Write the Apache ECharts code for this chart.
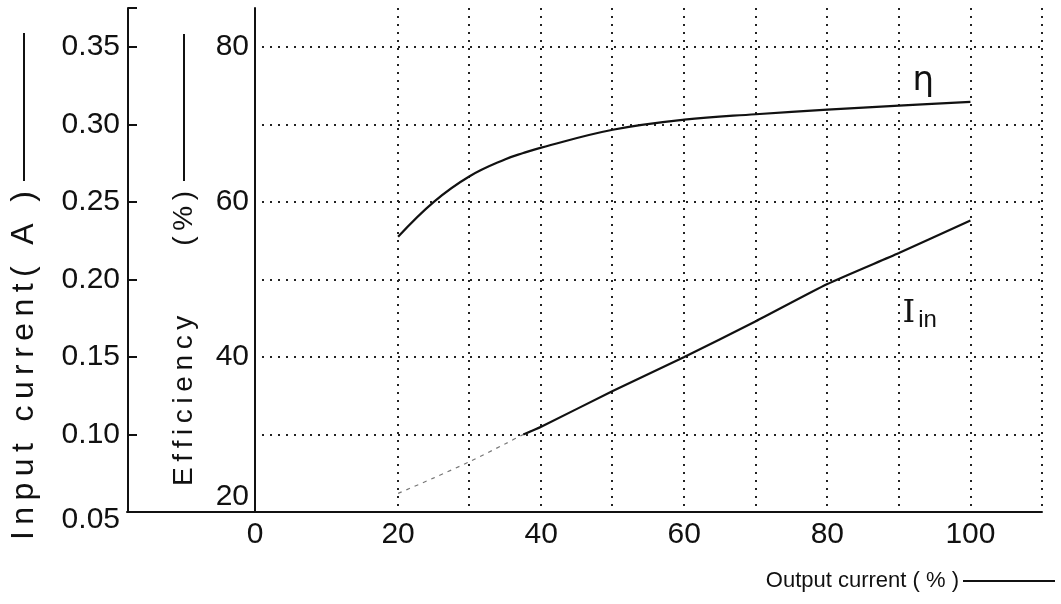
<!DOCTYPE html>
<html>
<head>
<meta charset="utf-8">
<title>Efficiency and input current vs output current</title>
<script src="https://cdn.jsdelivr.net/npm/echarts@6/dist/echarts.min.js"></script>
<style>
  html, body { margin: 0; padding: 0; background: #fff; }
  #chart { width: 1061px; height: 604px; }
</style>
</head>
<body>
<div id="chart"></div>
<script>
// output current (%) at which the curves were read
const loadPct = [20, 25, 30, 35, 37.5, 40, 50, 60, 70, 80, 90, 100]
// efficiency (%)
const efficiency = [55.5, 60.0, 63.3, 65.5, 66.3, 67.0, 69.3, 70.6, 71.3, 71.9, 72.4, 72.9]
// input current (A)
const inputCurrent = [0.062, 0.072, 0.0825, 0.094, 0.100, 0.105, 0.128, 0.150, 0.173, 0.197, 0.217, 0.238]
// the low-load part of I_in is drawn faint in the original, up to this index
const faintEnd = 5

const xTicks = [0, 20, 40, 60, 80, 100]
const effTicks = [20, 40, 60, 80]
const curTicks = [0.05, 0.10, 0.15, 0.20, 0.25, 0.30, 0.35]

const INK = '#111'
const FONT = 'Liberation Sans'
const PLOT_L = 254, PLOT_R = 1042, PLOT_T = 8, PLOT_B = 512
const X_MAX = 110, EFF_MIN = 20, EFF_MAX = 85
const pxPerX = (PLOT_R - PLOT_L) / X_MAX
const pxPerEff = (PLOT_B - PLOT_T) / (EFF_MAX - EFF_MIN)

const spaced = s => s.split('').join('\u2009')
const pairs = (xs, ys) => xs.map((x, i) => [x, ys[i]])

const dotted = { color: '#222', width: 2, type: [2, 6] }
// invisible anchor for a text note placed in data coordinates
const note = (coord, label) => ({
  symbol: 'circle', symbolSize: 1,
  itemStyle: { color: 'rgba(0,0,0,0)' },
  label: Object.assign({ show: true, position: 'inside' }, label),
  data: [{ coord: coord }]
})

const chart = echarts.init(document.getElementById('chart'))
chart.setOption({
  backgroundColor: '#fff',
  animation: false,
  textStyle: { fontFamily: FONT, color: INK },
  grid: [
    // main plot
    { left: PLOT_L, top: PLOT_T, width: PLOT_R - PLOT_L, height: PLOT_B - PLOT_T },
    // x axis line running left under the input current scale
    { left: 127, top: PLOT_T, width: PLOT_L - 127, height: PLOT_B - PLOT_T },
    // vertical grid lines from 20 % on
    { left: PLOT_L + 20 * pxPerX, top: PLOT_T, width: PLOT_R - PLOT_L - 20 * pxPerX, height: PLOT_B - PLOT_T },
    // horizontal grid lines up to 80 %
    { left: PLOT_L, top: PLOT_B - (80 - EFF_MIN) * pxPerEff, width: PLOT_R - PLOT_L, height: (80 - EFF_MIN) * pxPerEff }
  ],
  xAxis: [
    {
      gridIndex: 0, type: 'value', min: 0, max: X_MAX, interval: 10,
      axisLine: { lineStyle: { color: INK, width: 2 } },
      axisTick: { show: false },
      splitLine: { show: false },
      axisLabel: {
        fontSize: 30, color: INK, margin: 8,
        formatter: v => xTicks.includes(v) ? String(v) : ''
      },
      name: '{t|Output current ( % )}{g| }{ln| }',
      nameLocation: 'end',
      nameGap: 13,
      nameTextStyle: {
        align: 'right', verticalAlign: 'top', padding: [58, 0, 0, 0],
        rich: {
          t: { fontSize: 22, color: INK, fontFamily: FONT },
          g: { width: 4 },
          ln: { width: 92, height: 2, backgroundColor: INK, verticalAlign: 'middle' }
        }
      }
    },
    {
      gridIndex: 1, type: 'value', min: 0, max: 1,
      axisLine: { lineStyle: { color: INK, width: 2 } },
      axisTick: { show: false }, axisLabel: { show: false }, splitLine: { show: false }
    },
    {
      gridIndex: 2, type: 'value', min: 20, max: X_MAX, interval: 10,
      axisLine: { show: false }, axisTick: { show: false }, axisLabel: { show: false },
      splitLine: { show: true, lineStyle: dotted }
    },
    { gridIndex: 3, type: 'value', min: 0, max: X_MAX, show: false }
  ],
  yAxis: [
    {
      gridIndex: 0, type: 'value', min: EFF_MIN, max: EFF_MAX, interval: 10,
      axisLine: { show: true, lineStyle: { color: INK, width: 2 } },
      axisTick: { show: false },
      splitLine: { show: false },
      axisLabel: {
        fontSize: 30, color: INK, margin: 6,
        formatter: v => effTicks.includes(v) ? (v === 20 ? '{lift|20}' : String(v)) : '',
        rich: { lift: { fontSize: 30, color: INK, padding: [0, 0, 30, 0] } }
      },
      name: '{t|' + spaced('Efficiency') + '}{g| }{t|' + spaced('(%)') + '}{g2| }{ln| }',
      nameLocation: 'middle',
      nameRotate: 90,
      nameGap: 57,
      nameTextStyle: {
        rich: {
          t: { fontSize: 28, color: INK, fontFamily: FONT },
          g: { width: 70 },
          g2: { width: 10 },
          ln: { width: 147, height: 2, backgroundColor: INK, verticalAlign: 'middle' }
        }
      }
    },
    {
      gridIndex: 0, type: 'value', position: 'left', offset: PLOT_L - 127,
      min: 0.05, max: 0.375, interval: 0.05,
      axisLine: { show: true, lineStyle: { color: INK, width: 2 } },
      axisTick: { show: true, inside: true, length: 9, lineStyle: { color: INK, width: 2 } },
      splitLine: { show: false },
      axisLabel: {
        fontSize: 30, color: INK, margin: 8,
        formatter: v => {
          if (!curTicks.some(t => Math.abs(t - v) < 1e-6)) return ''
          return Math.abs(v - 0.05) < 1e-6 ? '{drop|0.05}' : v.toFixed(2)
        },
        rich: { drop: { fontSize: 30, color: INK, padding: [16, 0, 0, 0] } }
      },
      name: '{t|' + spaced('Input current( A )') + '}{g| }{ln| }',
      nameLocation: 'middle',
      nameRotate: 90,
      nameGap: 88,
      nameTextStyle: {
        padding: [0, 53, 0, 0],
        rich: {
          t: { fontSize: 32, color: INK, fontFamily: FONT },
          g: { width: 10 },
          ln: { width: 148, height: 2, backgroundColor: INK, verticalAlign: 'middle' }
        }
      }
    },
    { gridIndex: 1, type: 'value', min: 0, max: 1, show: false },
    { gridIndex: 2, type: 'value', min: 0, max: 1, show: false },
    {
      gridIndex: 3, type: 'value', min: EFF_MIN, max: 80, interval: 10,
      axisLine: { show: false }, axisTick: { show: false }, axisLabel: { show: false },
      splitLine: { show: true, lineStyle: dotted }
    }
  ],
  series: [
    {
      name: 'η', type: 'line', xAxisIndex: 0, yAxisIndex: 0,
      data: pairs(loadPct, efficiency),
      smooth: 0.4, symbol: 'none',
      lineStyle: { color: INK, width: 2.2 },
      markPoint: note([93.4, 75.6], { formatter: 'η', fontSize: 34, color: INK, fontFamily: 'DejaVu Sans' })
    },
    {
      name: 'I_in faint', type: 'line', xAxisIndex: 0, yAxisIndex: 1,
      data: pairs(loadPct, inputCurrent).slice(0, faintEnd + 1),
      smooth: 0.3, symbol: 'none',
      lineStyle: { color: '#777', width: 1.2, type: [4, 5] }
    },
    {
      name: 'I_in', type: 'line', xAxisIndex: 0, yAxisIndex: 1,
      data: pairs(loadPct, inputCurrent).slice(faintEnd - 1),
      smooth: 0.2, symbol: 'none',
      lineStyle: { color: INK, width: 2.2 },
      markPoint: note([92.9, 0.178], {
        formatter: '{i|I}{s|in}',
        rich: {
          i: { fontSize: 32, color: INK, fontFamily: 'DejaVu Serif' },
          s: { fontSize: 24, color: INK, fontFamily: FONT, padding: [14, 0, 0, 3] }
        }
      })
    }
  ]
})
window.onresize = () => {
  chart.resize()
}
</script>
</body>
</html>
